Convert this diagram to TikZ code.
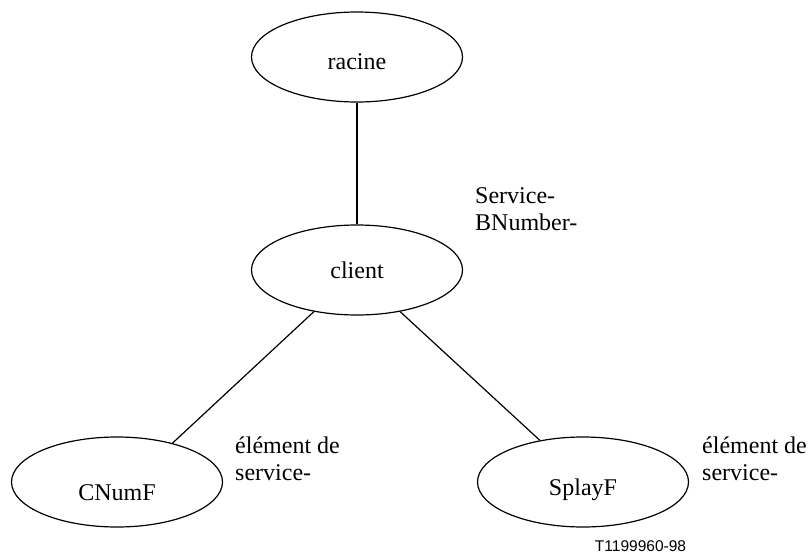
\documentclass[tikz,border=0pt]{standalone}
\usepackage{fontspec}
\setmainfont{Liberation Serif}
\newfontfamily\figsans{Liberation Sans}
\usetikzlibrary{shapes.geometric}
\tikzset{
  entity/.style={draw, ellipse, line width=1.2pt, minimum width=211pt,
    minimum height=90pt, inner sep=0pt, text depth=0pt,
    font=\fontsize{24}{27}\selectfont},
  link/.style={line width=1.2pt},
  note/.style={anchor=base west, align=left, inner sep=0pt,
    font=\fontsize{24}{27}\selectfont}
}
\begin{document}
\begin{tikzpicture}[x=1pt, y=-1pt]
  \useasboundingbox (0,0) rectangle (811,554);
  % tree of entities (text height sets where each name sits in its ellipse)
  \node[entity, text height=24pt] (racine) at (357,57) {racine};
  \node[entity, text height=16pt] (client) at (357,270) {client};
  \node[entity, text height=36pt] (cnumf)  at (117,482) {CNumF};
  \node[entity, text height=26pt] (splayf) at (583,482) {SplayF};
  % connectors
  \draw[link] (racine.south) -- (client.north);
  \draw[link] (client.224) -- (cnumf.35);
  \draw[link] (client.316) -- (splayf.136);
  % labels (anchored at the baseline of their last line)
  \node[note] (lbsvc) at (475,230) {Service-\\BNumber-};
  \node[note] (lbel1) at (235,480) {élément de\\service-};
  \node[note] (lbel2) at (702,480) {élément de\\service-};
  \node[anchor=center, inner sep=0pt, font=\figsans\fontsize{15.5}{18}\selectfont]
    (tag) at (640.5,546) {T1199960-98};
\end{tikzpicture}
\end{document}
